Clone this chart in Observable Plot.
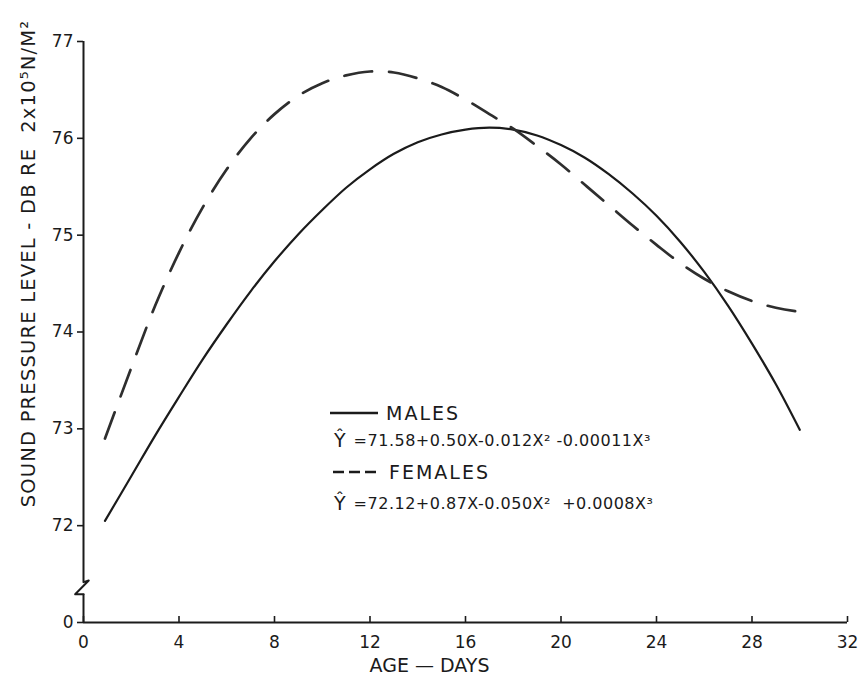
<!DOCTYPE html>
<html>
<head>
<meta charset="utf-8">
<script src="https://cdn.jsdelivr.net/npm/d3@7"></script>
<script src="https://cdn.jsdelivr.net/npm/@observablehq/plot@0.6"></script>
<style>
  html, body { margin: 0; padding: 0; background: #fff; }
  #chart { position: relative; width: 860px; height: 678px; overflow: hidden; }
  #legend { position: absolute; left: 0; top: 0; font-family: "DejaVu Sans", sans-serif; color: #1a1a1a; }
  .row { position: absolute; white-space: pre; display: flex; align-items: center; }
  .name { font-size: 19px; letter-spacing: 2px; }
  .eq { font-size: 16px; letter-spacing: 0.5px; white-space: pre; }
  .hat { font-size: 19px; margin-right: 8px; }
</style>
</head>
<body>
<div id="chart"></div>
<script>
// ---- data ----
const maleDays   = [0.9, 2, 3, 4, 5, 6, 7, 8, 9, 10, 11, 12, 13, 14, 15, 16, 17, 18, 19, 20, 21, 22, 23, 24, 25, 26, 27, 28, 29, 30];
const maleLevels = [72.05, 72.51, 72.93, 73.33, 73.72, 74.08, 74.42, 74.73, 75.01, 75.26, 75.49, 75.68, 75.84, 75.96, 76.04, 76.09, 76.11, 76.09, 76.03, 75.93, 75.80, 75.63, 75.43, 75.20, 74.93, 74.62, 74.27, 73.88, 73.46, 72.99];

const femaleDays   = [0.9, 2, 3, 4, 5, 6, 7, 8, 9, 10, 11, 12, 13, 14, 15, 16, 17, 18, 19, 20, 21, 22, 23, 24, 25, 26, 27, 28, 29, 30, 30.5];
const femaleLevels = [72.90, 73.63, 74.27, 74.82, 75.29, 75.68, 76.00, 76.25, 76.44, 76.57, 76.65, 76.69, 76.68, 76.62, 76.53, 76.40, 76.25, 76.10, 75.92, 75.73, 75.52, 75.31, 75.10, 74.90, 74.71, 74.55, 74.42, 74.32, 74.25, 74.21, 74.20];

const xTicks = [0, 4, 8, 12, 16, 20, 24, 28, 32];
const yTicks = [0, 72, 73, 74, 75, 76, 77];
const xLabel = "AGE — DAYS";
const yLabel = "SOUND PRESSURE LEVEL - DB RE  2x10⁵N/M²";
const seriesNames = ["MALES", "FEMALES"];
const equations = ["=71.58+0.50X-0.012X² -0.00011X³", "=72.12+0.87X-0.050X²  +0.0008X³"];
// y-axis break (day, level) and the two axis pieces around it
const axisBreakDays   = [0, 0.22, -0.35, 0];
const axisBreakLevels = [30, 31.2, 21, 21];
const axisPieces = [{from: 30, to: 77}, {from: 0, to: 21}];

// ---- build tables ----
const males = maleDays.map((d, i) => ({day: d, level: maleLevels[i]}));
const females = femaleDays.map((d, i) => ({day: d, level: femaleLevels[i]}));
const axisBreak = axisBreakDays.map((d, i) => ({day: d, level: axisBreakLevels[i]}));

// broken y scale: 0..72 squeezed into one unit, 72..77 linear
const brokenY = v => (v >= 72 ? v - 71 : v / 72);

const ink = "#1b1b1b";
const font = "DejaVu Sans, sans-serif";

const chart = Plot.plot({
  width: 860,
  height: 678,
  marginLeft: 83,
  marginRight: 13,
  marginTop: 41,
  marginBottom: 56,
  style: {fontFamily: font, background: "#fff", color: ink, overflow: "visible"},
  x: {domain: [0, 32]},
  y: {transform: brokenY, domain: [0, 6]},
  marks: [
    // axis lines
    Plot.ruleY([0], {x1: 0, x2: 32, stroke: ink, strokeWidth: 2}),
    Plot.ruleX(axisPieces, {x: 0, y1: "from", y2: "to", stroke: ink, strokeWidth: 2}),
    Plot.line(axisBreak, {x: "day", y: "level", stroke: ink, strokeWidth: 2, curve: "linear"}),
    Plot.axisX(xTicks, {tickSize: -6, tickPadding: 19, fontSize: 17, stroke: ink, strokeWidth: 1.6, fill: ink, label: null, tickFormat: d => String(d)}),
    Plot.axisY(yTicks, {tickSize: 6, tickPadding: 4, fontSize: 17, stroke: ink, strokeWidth: 1.6, fill: ink, label: null, tickFormat: d => String(d)}),
    // series
    Plot.line(males, {x: "day", y: "level", stroke: ink, strokeWidth: 2.2, curve: "catmull-rom"}),
    Plot.line(females, {x: "day", y: "level", stroke: "#2e2e2e", strokeWidth: 2.7, strokeDasharray: "28,17", curve: "catmull-rom"}),
    // axis titles
    Plot.text([xLabel], {frameAnchor: "bottom-left", dx: 346, dy: 43, textAnchor: "middle", lineAnchor: "middle", text: d => d, fontSize: 19, fill: ink}),
    Plot.text([yLabel], {frameAnchor: "top-left", dx: -55, dy: 222, textAnchor: "middle", lineAnchor: "middle", rotate: -90, text: d => d, fontSize: 19.5, fill: ink, className: "ylabel"})
  ]
});

// widen the lettering of the y title, as in the reference
chart.querySelectorAll(".ylabel text").forEach(t => t.setAttribute("letter-spacing", "1.2"));

const root = document.getElementById("chart");
root.appendChild(chart);

// legend (inside the plot area, as in the reference)
const legend = document.createElement("div");
legend.id = "legend";
const rows = [
  {top: 401, left: 329, kind: "solid", text: seriesNames[0]},
  {top: 428, left: 334, kind: "eq", text: equations[0]},
  {top: 460, left: 332, kind: "dash", text: seriesNames[1]},
  {top: 491, left: 334, kind: "eq", text: equations[1]}
];
for (const r of rows) {
  const div = document.createElement("div");
  div.className = "row";
  div.style.top = r.top + "px";
  div.style.left = r.left + "px";
  div.style.height = "24px";
  if (r.kind === "eq") {
    div.innerHTML = `<span class="hat">Ŷ</span><span class="eq">${r.text}</span>`;
  } else {
    const dash = r.kind === "dash" ? 'stroke-dasharray="11,5"' : "";
    div.innerHTML = `<svg width="50" height="24" style="margin-right:7px"><line x1="1" y1="12" x2="49" y2="12" stroke="${ink}" stroke-width="2.4" ${dash}/></svg><span class="name">${r.text}</span>`;
  }
  legend.appendChild(div);
}
root.appendChild(legend);
</script>
</body>
</html>
